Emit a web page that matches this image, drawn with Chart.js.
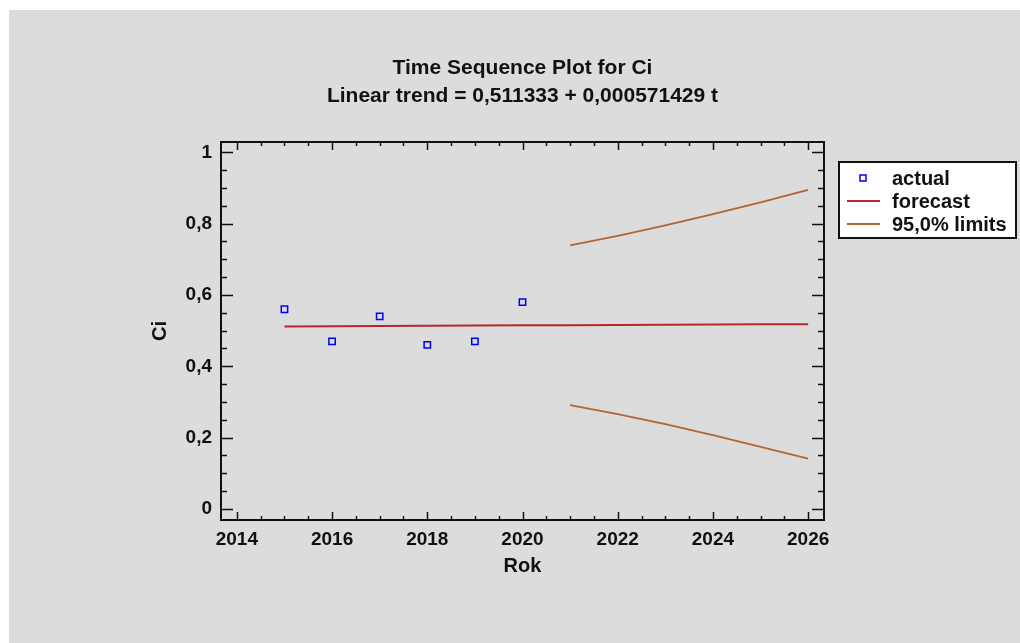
<!DOCTYPE html>
<html>
<head>
<meta charset="utf-8">
<title>Time Sequence Plot for Ci</title>
<script src="https://cdn.jsdelivr.net/npm/chart.js@4.4.1/dist/chart.umd.min.js"></script>
<style>
  body { margin: 0; background: #fff; }
  #plot { position: absolute; left: 9px; top: 10px; background: #dcdcdc; }
</style>
</head>
<body>
<canvas id="plot" width="1011" height="633"></canvas>
<script>
// observed values
const years = [2015, 2016, 2017, 2018, 2019, 2020];
const actualCi = [0.56, 0.47, 0.54, 0.46, 0.47, 0.58];

// linear trend forecast
const forecastYears = [2015, 2016, 2017, 2018, 2019, 2020, 2021, 2022, 2023, 2024, 2025, 2026];
const forecastCi = [0.5119, 0.5125, 0.5131, 0.5136, 0.5142, 0.5148, 0.5153, 0.5159, 0.5165, 0.5171, 0.5176, 0.5182];

// 95% limits
const limitYears = [2021, 2022, 2023, 2024, 2025, 2026];
const upperLimit = [0.739, 0.766, 0.795, 0.827, 0.860, 0.895];
const lowerLimit = [0.291, 0.266, 0.238, 0.207, 0.174, 0.141];

// axes
const xTicks = [2014, 2016, 2018, 2020, 2022, 2024, 2026];
const yTicks = [0, 0.2, 0.4, 0.6, 0.8, 1];
const yTickLabels = ['0', '0,2', '0,4', '0,6', '0,8', '1'];

const legendItems = [
  { label: 'actual', type: 'marker', color: '#0000ff' },
  { label: 'forecast', type: 'line', color: '#b22b2b' },
  { label: '95,0% limits', type: 'line', color: '#b5652f' }
];

const FONT = "'Liberation Sans', Arial, sans-serif";
const INK = '#111';

const toPoints = (xs, ys) => xs.map((x, i) => ({ x: x, y: ys[i] }));

// box + inward ticks on all four sides, like the original stats package
const frame = {
  id: 'frame',
  afterDatasetsDraw(chart) {
    const { ctx, chartArea: a, scales: { x, y } } = chart;
    ctx.save();
    ctx.strokeStyle = INK;
    ctx.lineWidth = 1.5;
    ctx.beginPath();
    for (let i = 0; i <= 20; i++) {
      const py = Math.round(y.getPixelForValue(i * 0.05)) + 0.5;
      const len = i % 4 === 0 ? 12 : 6;
      ctx.moveTo(a.left, py); ctx.lineTo(a.left + len, py);
      ctx.moveTo(a.right, py); ctx.lineTo(a.right - len, py);
    }
    for (let i = 0; i <= 24; i++) {
      const px = Math.round(x.getPixelForValue(2014 + i * 0.5)) + 0.5;
      const len = i % 4 === 0 ? 8 : 4;
      ctx.moveTo(px, a.bottom); ctx.lineTo(px, a.bottom - len);
      ctx.moveTo(px, a.top); ctx.lineTo(px, a.top + len);
    }
    ctx.stroke();
    ctx.lineWidth = 2;
    ctx.strokeRect(a.left, a.top, a.right - a.left, a.bottom - a.top);
    ctx.restore();
  }
};

const boxLegend = {
  id: 'boxLegend',
  afterDraw(chart) {
    const { ctx, chartArea: a } = chart;
    const left = a.right + 15, top = a.top + 20, w = 177, h = 76;
    ctx.save();
    ctx.fillStyle = '#fff';
    ctx.fillRect(left, top, w, h);
    ctx.strokeStyle = INK;
    ctx.lineWidth = 2;
    ctx.strokeRect(left, top, w, h);
    ctx.font = 'bold 20px ' + FONT;
    ctx.textBaseline = 'middle';
    legendItems.forEach((item, i) => {
      const cy = top + 16 + i * 23;
      ctx.strokeStyle = item.color;
      if (item.type === 'marker') {
        ctx.lineWidth = 1.5;
        ctx.strokeRect(left + 21, cy - 3, 6, 6);
      } else {
        ctx.lineWidth = 2;
        ctx.beginPath();
        ctx.moveTo(left + 8, cy); ctx.lineTo(left + 41, cy);
        ctx.stroke();
      }
      ctx.fillStyle = INK;
      ctx.fillText(item.label, left + 53, cy + 1);
    });
    ctx.restore();
  }
};

new Chart(document.getElementById('plot'), {
  type: 'line',
  data: {
    datasets: [
      {
        label: 'actual',
        data: toPoints(years, actualCi),
        showLine: false,
        pointStyle: 'rect',
        pointRadius: 4.5,
        pointBorderWidth: 1.5,
        pointBorderColor: '#0000ff',
        pointBackgroundColor: 'rgba(0,0,0,0)'
      },
      {
        label: 'forecast',
        data: toPoints(forecastYears, forecastCi),
        borderColor: '#b22b2b',
        borderWidth: 2,
        pointRadius: 0
      },
      {
        label: '95,0% limits',
        data: toPoints(limitYears, upperLimit),
        borderColor: '#b5652f',
        borderWidth: 1.8,
        pointRadius: 0
      },
      {
        label: '95,0% limits (lower)',
        data: toPoints(limitYears, lowerLimit),
        borderColor: '#b5652f',
        borderWidth: 1.8,
        pointRadius: 0
      }
    ]
  },
  options: {
    responsive: false,
    devicePixelRatio: 1,
    animation: false,
    layout: { padding: { left: 0, right: 196, top: 0, bottom: 0 } },
    plugins: {
      legend: { display: false },
      tooltip: { enabled: false },
      title: {
        display: true,
        fullSize: false,
        text: ['Time Sequence Plot for Ci', 'Linear trend = 0,511333 + 0,000571429 t'],
        color: INK,
        font: { family: FONT, size: 21, weight: 'bold', lineHeight: '28px' },
        padding: { top: 44, bottom: 32 }
      }
    },
    scales: {
      x: {
        type: 'linear',
        min: 2013.667,
        max: 2026.333,
        grid: { display: false, drawTicks: false },
        border: { display: false },
        afterBuildTicks: s => { s.ticks = xTicks.map(v => ({ value: v })); },
        afterFit: s => { s.height = 123; },
        ticks: {
          padding: 8,
          color: INK,
          font: { family: FONT, size: 19, weight: 'bold' },
          callback: v => String(v)
        },
        title: {
          display: true,
          text: 'Rok',
          color: INK,
          font: { family: FONT, size: 20, weight: 'bold' },
          padding: { top: 0, bottom: 65 }
        }
      },
      y: {
        type: 'linear',
        min: -0.031,
        max: 1.029,
        grid: { display: false, drawTicks: false },
        border: { display: false },
        afterBuildTicks: s => { s.ticks = yTicks.map(v => ({ value: v })); },
        afterFit: s => { s.width = 212; },
        ticks: {
          padding: 9,
          color: INK,
          font: { family: FONT, size: 19, weight: 'bold' },
          callback: (v, i) => yTickLabels[i]
        },
        title: {
          display: true,
          text: 'Ci',
          color: INK,
          font: { family: FONT, size: 20, weight: 'bold' },
          padding: { top: 139, bottom: 0 }
        }
      }
    }
  },
  plugins: [frame, boxLegend]
});
</script>
</body>
</html>
